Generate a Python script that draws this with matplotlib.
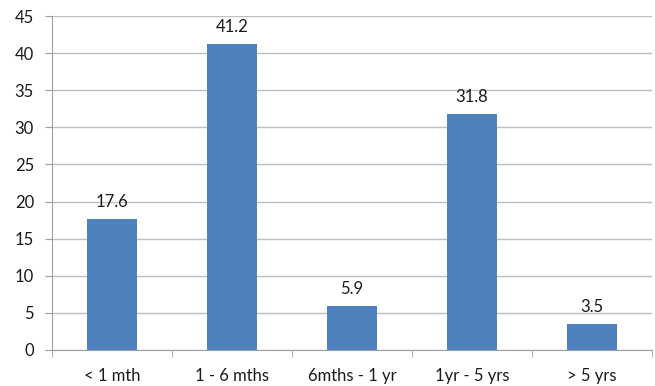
import numpy as np
import matplotlib.pyplot as plt

categories = ['< 1 mth', '1 - 6 mths', '6mths - 1 yr', '1yr - 5 yrs', '> 5 yrs']
values = [17.6, 41.2, 5.9, 31.8, 3.5]
yticks = [0, 5, 10, 15, 20, 25, 30, 35, 40, 45]

plt.rcParams['font.family'] = ['Lato', 'DejaVu Sans']

fig = plt.figure(figsize=(6.55, 3.86), dpi=100)
ax = fig.add_axes([0.0794, 0.0933, 0.916, 0.8652])

x = np.arange(len(categories))
bars = ax.bar(x, values, width=0.41, color='#4F81BD', zorder=3)
for b, v in zip(bars, values):
    ax.text(b.get_x() + b.get_width() / 2, v + 1.2, f'{v}', ha='center', va='bottom',
            fontsize=12, color='#1a1a1a')

ax.set_xlim(-0.5, len(categories) - 0.5)
ax.set_ylim(0, 45)
ax.set_yticks(yticks)
ax.set_xticks(x)
ax.set_xticklabels(categories)
ax.set_xticks(np.arange(len(categories) + 1) - 0.5, minor=True)
ax.tick_params(axis='x', which='major', length=0, pad=13, labelsize=12, labelcolor='#1a1a1a')
ax.tick_params(axis='x', which='minor', length=5, color='#A0A0A0')
ax.tick_params(axis='y', length=5, color='#A0A0A0', labelsize=12, labelcolor='#1a1a1a', pad=8)

ax.grid(axis='y', color='#BFBFBF', linewidth=1, zorder=0)
for s in ['top', 'right']:
    ax.spines[s].set_visible(False)
for s in ['left', 'bottom']:
    ax.spines[s].set_color('#A0A0A0')

fig.savefig('out.png', dpi=100)
